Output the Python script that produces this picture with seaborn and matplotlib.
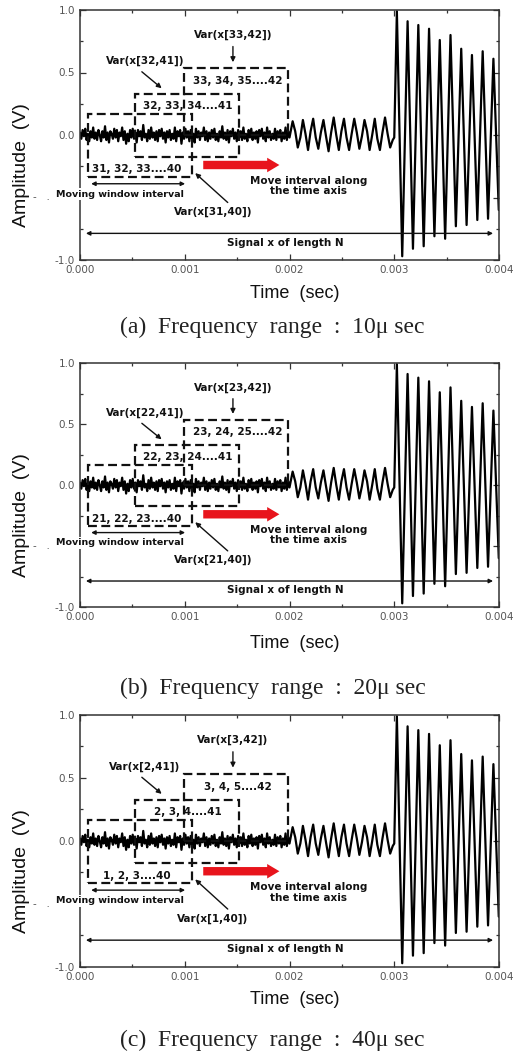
import matplotlib
matplotlib.use("Agg")
import matplotlib.pyplot as plt
from matplotlib.patches import Rectangle
import seaborn as sns
import numpy as np

# noise part of the signal, 0 .. 0.002 s
noise = [
    0.02, -0.03, 0.04, -0.01, 0.05, -0.04, 0.01, -0.05, 0.03, -0.02,
    0.06, -0.03, 0.02, -0.04, 0.04, 0.00, -0.05, 0.03, -0.02, 0.07,
    -0.04, 0.02, -0.06, 0.03, 0.01, -0.03, 0.05, -0.02, 0.04, -0.05,
    0.02, -0.01, 0.06, -0.04, 0.03, -0.07, 0.01, -0.05, 0.04, -0.02,
    0.05, -0.03, 0.02, -0.06, 0.04, -0.01, 0.03, -0.04, 0.08, -0.02,
    0.01, -0.05, 0.04, -0.03, 0.06, -0.02, 0.02, -0.04, 0.03, -0.05,
    0.04, -0.01, 0.05, -0.03, 0.02, -0.06, 0.03, -0.02, 0.04, -0.04,
    0.01, -0.03, 0.06, -0.05, 0.03, -0.01, 0.04, -0.07, 0.02, -0.03,
    0.05, -0.02, 0.03, -0.05, 0.04, -0.03, 0.01, -0.06, 0.05, -0.02,
    0.03, -0.04, 0.02, -0.01, 0.06, -0.04, 0.03, -0.05, 0.02, -0.03,
    0.04, -0.02, 0.05, -0.04, 0.01, -0.05, 0.03, -0.02, 0.07, -0.03,
    0.02, -0.04, 0.04, -0.06, 0.03, -0.01, 0.05, -0.03, 0.02, -0.05,
    0.04, -0.02, 0.03, -0.04, 0.06, -0.03, 0.01, -0.05, 0.04, -0.02,
    0.05, -0.04, 0.02, -0.03, 0.03, -0.06, 0.04, -0.01, 0.05, -0.03,
    0.02, -0.05, 0.06, -0.02, 0.03, -0.04, 0.01, -0.03, 0.05, -0.04,
    0.03, -0.02, 0.04, -0.05, 0.02, -0.03, 0.06, -0.04, 0.03, -0.02,
]
# small oscillation 0.002 .. 0.003 s (peak, crossing, trough, crossing ...)
small_wave = [
    0.11, 0.03, -0.10, -0.02, 0.12, 0.01, -0.12, 0.03, 0.13, -0.02,
    -0.11, 0.02, 0.12, -0.01, -0.13, 0.02, 0.14, 0.00, -0.12, 0.03,
    0.13, -0.02, -0.12, 0.01, 0.13, 0.02, -0.11, -0.01, 0.12, 0.03,
    -0.12, 0.00, 0.13, -0.03, -0.12, 0.02, 0.14, 0.01, -0.10, -0.04,
]
# large oscillation 0.003 .. 0.004 s (peaks and troughs)
big_wave = [
    0.99, -0.97, 0.91, -0.91, 0.88, -0.89, 0.85, -0.81, 0.76, -0.83,
    0.80, -0.73, 0.69, -0.72, 0.64, -0.68, 0.67, -0.67, 0.61, -0.60,
]

panel_tags = ["(a)", "(b)", "(c)"]
ranges = ["10", "20", "40"]
first_idx = [31, 21, 1]

t_noise = np.linspace(0, 0.002, len(noise))
t_small = 0.00203 + 0.0000245 * np.arange(len(small_wave))
t_big = 0.003025 + 0.0000512 * np.arange(len(big_wave))
t = np.concatenate([t_noise, t_small, [0.003], t_big])
v = np.concatenate([noise, small_wave, [-0.02], big_wave])

sns.set_theme(style="ticks")
plt.rcParams["font.family"] = ["DejaVu Sans"]

fig = plt.figure(figsize=(5.21, 10.53), dpi=100)
H = 1053.0
# axes boxes in pixels: top, bottom
boxes_px = [(10, 260), (363, 607), (715, 967)]
time_px = [293, 643, 1000]
cap_px = [327, 688, 1040]

ann = dict(fontsize=7.5, fontweight="bold", color="#111")
dash = (0, (4, 2))

for i, (top, bot) in enumerate(boxes_px):
    ax = fig.add_axes([80 / 521, 1 - bot / H, 419 / 521, (bot - top) / H])
    sns.lineplot(x=t, y=v, ax=ax, color="black", linewidth=1.6,
                 estimator=None, sort=False)
    ax.set_xlim(0, 0.004)
    ax.set_ylim(-1.0, 1.0)
    ax.set_xticks([0, 0.001, 0.002, 0.003, 0.004])
    ax.set_xticklabels(["0.000", "0.001", "0.002", "0.003", "0.004"])
    ax.set_xticks(np.arange(0, 0.0041, 0.0005), minor=True)
    ax.set_yticks([-1.0, -0.5, 0.0, 0.5, 1.0])
    ax.set_yticklabels(["-1.0", "", "0.0", "0.5", "1.0"])
    ax.set_yticks(np.arange(-1, 1.01, 0.25), minor=True)
    ax.tick_params(which="both", direction="in", top=True, right=True,
                   labelsize=7.5, labelcolor="#555", color="#333", width=0.9)
    ax.tick_params(which="major", length=4)
    ax.tick_params(which="minor", length=2.5)
    for s in ax.spines.values():
        s.set_color("#333")
        s.set_linewidth(1.1)
    ax.set_xlabel("")
    ax.set_ylabel("")

    # remains of the -0.5 label, partly hidden in the original
    fig.text(33 / 521, 1 - (top + 0.75 * (bot - top)) / H, "-   .",
             ha="left", va="center", fontsize=7.5, color="#555")

    n = first_idx[i]
    # dashed window boxes
    rects = [(0.00008, -0.335, 0.00099, 0.50),
             (0.000525, -0.175, 0.000995, 0.50),
             (0.00099, 0.0, 0.001, 0.535)]
    for (x0, y0, w, h) in rects:
        ax.add_patch(Rectangle((x0, y0), w, h, fill=False, ec="#111",
                               lw=1.6, ls=dash, zorder=4))
    ax.text(0.000545, -0.275, f"{n}, {n+1}, {n+2}....40", ha="center", va="center", **ann)
    ax.text(0.00103, 0.232, f"{n+1}, {n+2}, {n+3}....41", ha="center", va="center", **ann)
    ax.text(0.00151, 0.432, f"{n+2}, {n+3}, {n+4}....42", ha="center", va="center", **ann)

    # Var labels with arrows
    ax.text(0.00146, 0.80, f"Var(x[{n+2},42])", ha="center", va="center", **ann)
    ax.annotate("", xy=(0.00146, 0.56), xytext=(0.00146, 0.73),
                arrowprops=dict(arrowstyle="-|>", color="#111", lw=1.0,
                                mutation_scale=7))
    ax.text(0.00062, 0.59, f"Var(x[{n+1},41])", ha="center", va="center", **ann)
    ax.annotate("", xy=(0.00080, 0.36), xytext=(0.00057, 0.52),
                arrowprops=dict(arrowstyle="-|>", color="#111", lw=1.0,
                                mutation_scale=7))
    ax.text(0.00127, -0.615, f"Var(x[{n},40])", ha="center", va="center", **ann)
    ax.annotate("", xy=(0.00108, -0.29), xytext=(0.00143, -0.555),
                arrowprops=dict(arrowstyle="-|>", color="#111", lw=1.0,
                                mutation_scale=7))

    # moving window interval
    ax.annotate("", xy=(0.00008, -0.39), xytext=(0.00103, -0.39),
                arrowprops=dict(arrowstyle="<|-|>", color="#111", lw=1.0,
                                mutation_scale=6))
    ax.text(0.00038, -0.475, "Moving window interval", ha="center", va="center",
            zorder=10, bbox=dict(boxstyle="square,pad=0.15", fc="white", ec="none"),
            fontsize=6.8, fontweight="bold", color="#111")

    # red arrow
    ax.annotate("", xy=(0.00193, -0.24), xytext=(0.00115, -0.24),
                arrowprops=dict(arrowstyle="simple,head_width=0.95,head_length=0.8,tail_width=0.55",
                                color="#e8141c", lw=0, mutation_scale=11))
    ax.text(0.00218, -0.41, "Move interval along\nthe time axis", ha="center",
            va="center", linespacing=1.05, **ann)

    # signal length
    ax.annotate("", xy=(0.00003, -0.787), xytext=(0.00397, -0.787),
                arrowprops=dict(arrowstyle="<|-|>", color="#111", lw=1.0,
                                mutation_scale=6))
    ax.text(0.00196, -0.86, "Signal x of length N", ha="center", va="center", **ann)

    yc = (top + bot) / 2 + 30
    fig.text(22 / 521, 1 - yc / H, "Amplitude  (V)", rotation=90, ha="center",
             va="center", fontsize=14, family="Liberation Sans", color="#111")
    fig.text(0.565, 1 - time_px[i] / H, "Time  (sec)", ha="center", va="center",
             fontsize=13, family="Liberation Sans", color="#111")
    fig.text(0.523, 1 - cap_px[i] / H,
             f"{panel_tags[i]}  Frequency  range  :  {ranges[i]}μ sec",
             ha="center", va="center", fontsize=17, family="Liberation Serif",
             color="#222")

fig.savefig("out.png", dpi=100, facecolor="white")
